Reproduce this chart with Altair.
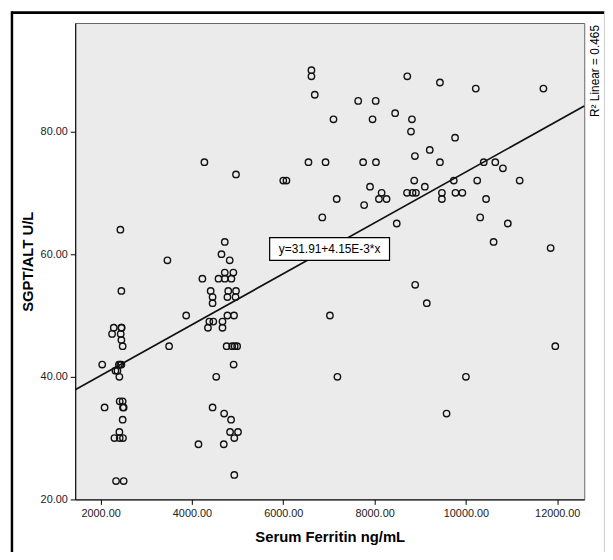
import altair as alt
import pandas as pd

# ---- data ----
ferritin = [
    2035, 2087, 2251, 2288, 2455, 2460, 2440, 2455, 2483, 2400, 2430, 2455, 2325, 2368,
    2411, 2418, 2483, 2490, 2505, 2483, 2411, 2303, 2418, 2490, 2338, 2505, 2433, 2455,
    3463, 3500, 3874, 4143, 4229, 4273, 4351, 4381, 4410, 4452, 4452, 4452, 4468, 4532,
    4582, 4647, 4669, 4669, 4697, 4705, 4719, 4719, 4719, 4907, 4827, 4864, 4795, 4965,
    4777, 4955, 4777, 4922, 4760, 4880, 4935, 4990, 4913, 4857, 4835, 5009, 4928, 4928,
    4965,
    6000, 6070, 6552, 6617, 6617, 6690, 6855, 6926, 7022, 7100, 7170, 7186, 7641, 7749,
    7771, 7900, 7955, 8024, 8030, 8095, 8154, 8262, 8450, 8485, 8710, 8716, 8797, 8818,
    8831, 8868, 8883, 8889, 8905, 9100, 9143, 9208, 9431, 9431, 9474, 9474, 9576, 9734,
    9762, 9771, 9922, 10000, 10216, 10247, 10312, 10390, 10441, 10606, 10643, 10810,
    10918, 11177, 11697, 11855, 11957,
]
sgpt = [
    42, 35, 47, 48, 48, 48, 47, 46, 45, 42, 42, 42, 41, 41,
    40, 36, 36, 35, 35, 33, 31, 30, 30, 30, 23, 23, 64, 54,
    59, 45, 50, 29, 56, 75, 48, 49, 54, 53, 52, 35, 49, 40,
    56, 60, 49, 48, 29, 34, 62, 57, 56, 57, 59, 56, 54, 54,
    53, 53, 50, 50, 45, 45, 45, 45, 42, 33, 31, 31, 30, 24,
    73,
    72, 72, 75, 90, 89, 86, 66, 75, 50, 82, 69, 40, 85, 75,
    68, 71, 82, 85, 75, 69, 70, 69, 83, 65, 70, 89, 80, 82,
    70, 72, 76, 55, 70, 71, 52, 77, 88, 75, 70, 69, 34, 72,
    79, 70, 70, 40, 87, 72, 66, 75, 69, 62, 75, 74,
    65, 72, 87, 61, 45,
]

x_ticks = [2000, 4000, 6000, 8000, 10000, 12000]
y_ticks = [20, 40, 60, 80]
x_domain = [1444, 12591]
y_domain = [20, 97.7]

intercept = 31.91
slope = 0.00415
eq_label = "y=31.91+4.15E-3*x"
r2_label = "R\u00b2 Linear = 0.465"
eq_box_x = [5702, 8327]
eq_box_y = [59.0, 62.7]

FONT = "Liberation Sans"

pts = pd.DataFrame({"x": ferritin, "y": sgpt})
fit = pd.DataFrame({"x": x_domain, "y": [intercept + slope * v for v in x_domain]})
box = pd.DataFrame({"x": [eq_box_x[0]], "x2": [eq_box_x[1]],
                    "y": [eq_box_y[0]], "y2": [eq_box_y[1]],
                    "xc": [(eq_box_x[0] + eq_box_x[1]) / 2],
                    "yc": [(eq_box_y[0] + eq_box_y[1]) / 2],
                    "label": [eq_label]})

xscale = alt.Scale(domain=x_domain, nice=False, zero=False)
yscale = alt.Scale(domain=y_domain, nice=False, zero=False)

xaxis = alt.Axis(values=x_ticks, format=".2f", title="Serum Ferritin ng/mL",
                 grid=False, tickSize=5, labelPadding=3, titlePadding=12)
yaxis = alt.Axis(values=y_ticks, format=".2f", title="SGPT/ALT U/L",
                 grid=False, tickSize=5, labelPadding=3, titlePadding=5)

points = alt.Chart(pts).mark_point(
    shape="circle", filled=False, size=42, strokeWidth=1.4, color="#111111", opacity=1
).encode(
    x=alt.X("x:Q", scale=xscale, axis=xaxis),
    y=alt.Y("y:Q", scale=yscale, axis=yaxis),
)

line = alt.Chart(fit).mark_line(color="#111111", strokeWidth=1.7).encode(
    x=alt.X("x:Q", scale=xscale), y=alt.Y("y:Q", scale=yscale)
)

rect = alt.Chart(box).mark_rect(fill="white", stroke="black", strokeWidth=1.2).encode(
    x=alt.X("x:Q", scale=xscale), x2="x2:Q",
    y=alt.Y("y:Q", scale=yscale), y2="y2:Q",
)

eq_text = alt.Chart(box).mark_text(font=FONT, fontSize=12, color="black").encode(
    x=alt.X("xc:Q", scale=xscale), y=alt.Y("yc:Q", scale=yscale), text="label:N"
)

r2_text = alt.Chart(pd.DataFrame({"label": [r2_label]})).mark_text(
    font=FONT, fontSize=12, color="black", angle=270, align="right", baseline="middle"
).encode(x=alt.value(526), y=alt.value(2), text="label:N")

top_border = alt.Chart(pd.DataFrame({"a": [0]})).mark_rule(color="black", strokeWidth=3).encode(
    x=alt.value(-64), x2=alt.value(540), y=alt.value(-10.5)
)
left_border = alt.Chart(pd.DataFrame({"a": [0]})).mark_rule(color="black", strokeWidth=2.5).encode(
    x=alt.value(-64), y=alt.value(-12), y2=alt.value(540)
)
right_border = alt.Chart(pd.DataFrame({"a": [0]})).mark_rule(color="#cccccc", strokeWidth=1).encode(
    x=alt.value(535.5), y=alt.value(-12), y2=alt.value(540)
)

chart = alt.layer(
    points, line, rect, eq_text, r2_text, top_border, left_border, right_border
).properties(
    width=515, height=482,
    padding={"left": 68, "top": 12, "right": 21, "bottom": 50},
    autosize=alt.AutoSizeParams(type="none"),
).configure_view(
    fill="#ebebeb", stroke="#666666", strokeWidth=1
).configure_axis(
    labelFont=FONT, labelFontSize=11, labelColor="#222222",
    titleFont=FONT, titleFontSize=15, titleFontWeight="bold", titleColor="black",
    domainColor="black", tickColor="black", domainWidth=1, tickWidth=1,
)

chart.save("out.html", embed_options={"renderer": "svg", "actions": False})
